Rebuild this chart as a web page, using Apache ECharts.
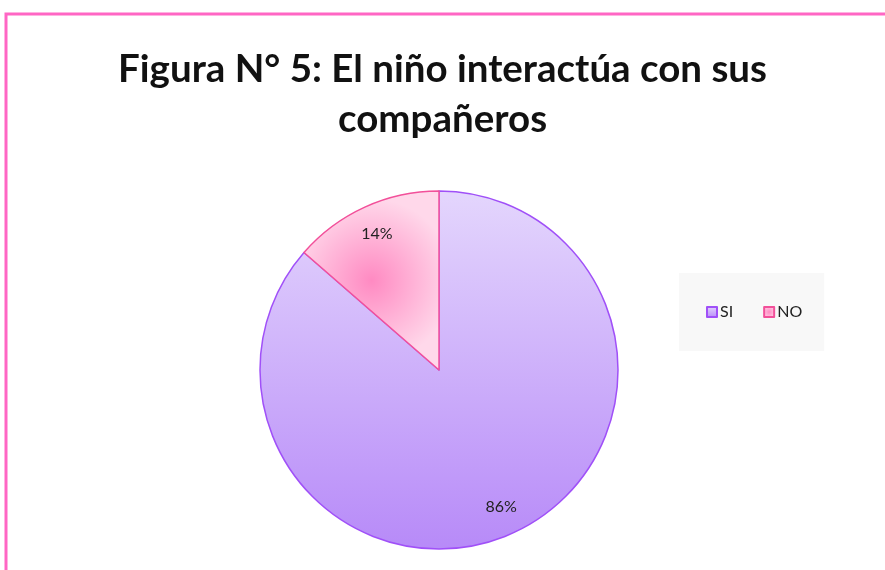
<!DOCTYPE html>
<html><head><meta charset="utf-8">
<script src="https://cdn.jsdelivr.net/npm/echarts@6/dist/echarts.min.js"></script>
<style>html,body{margin:0;padding:0;background:#fff}#c{width:885px;height:570px}</style>
</head><body><div id="c"></div>
<script>
const categories = ['SI', 'NO'];
const values = [86.4, 13.6];
const titleLines = ['Figura N° 5: El niño interactúa con sus', 'compañeros'];

const chart = echarts.init(document.getElementById('c'));
const fills = [
  new echarts.graphic.LinearGradient(0, 0, 0, 1, [{offset: 0, color: '#e4d6fd'}, {offset: 1, color: '#b78af8'}]),
  new echarts.graphic.RadialGradient(0.5, 0.5, 0.6, [{offset: 0, color: '#ff8ac2'}, {offset: 1, color: '#ffd8ea'}])
];
const strokes = ['#a050f8', '#f2509a'];
const data = categories.map((c, i) => ({
  name: c, value: values[i],
  itemStyle: {color: fills[i], borderColor: strokes[i], borderWidth: 1.5}
}));
chart.setOption({
  animation: false,
  title: {
    text: titleLines.join('\n'), left: 'center', top: 40, padding: [5, 17, 5, 5],
    textStyle: {fontFamily: 'Lato', fontWeight: 'bold', fontSize: 38.5, lineHeight: 50, color: '#111'}
  },
  graphic: [{type: 'rect', shape: {x: 6, y: 14, width: 900, height: 600},
    style: {fill: 'none', stroke: '#ff66c4', lineWidth: 3}, silent: true}],
  legend: {
    data: categories, orient: 'horizontal', left: 679, top: 273,
    backgroundColor: '#f8f8f8', padding: [31, 22, 31, 27],
    itemWidth: 10, itemHeight: 10, itemGap: 30, icon: 'rect',
    textStyle: {fontFamily: 'Lato', fontSize: 16, color: '#222', padding: [0, 0, 0, -2]}
  },
  series: [{
    type: 'pie', center: [439, 370], radius: 179, startAngle: 90, clockwise: true,
    data: data, label: {show: false}, labelLine: {show: false}, emphasis: {disabled: true}
  }, {
    type: 'pie', center: [439, 370], radius: [115, 179], startAngle: 90, clockwise: true, silent: true,
    data: categories.map((c, i) => ({name: c, value: values[i], itemStyle: {color: 'rgba(0,0,0,0)', borderWidth: 0}})),
    label: {show: true, position: 'inside', formatter: p => Math.round(p.percent) + '%', fontFamily: 'Lato', fontSize: 16, color: '#222'},
    labelLine: {show: false}, legendHoverLink: false
  }]
});
</script></body></html>
